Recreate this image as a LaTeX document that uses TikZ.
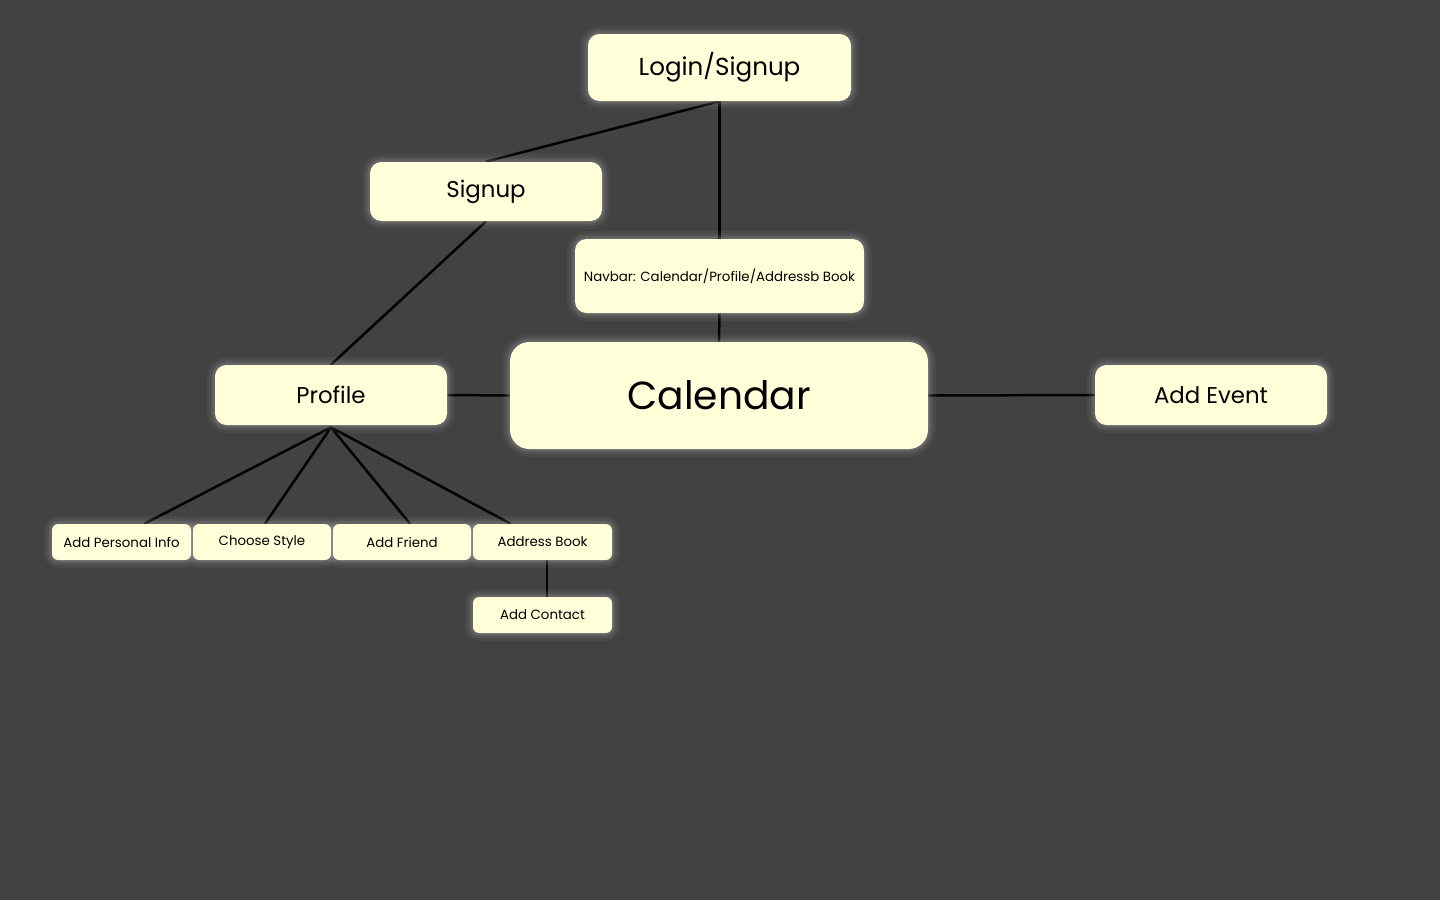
\documentclass[tikz,border=0pt]{standalone}
\usepackage{fontspec}
\setmainfont{Poppins}
\usetikzlibrary{backgrounds, calc}

\definecolor{canvas}{RGB}{66,66,66}
\definecolor{cardfill}{RGB}{255,255,217}

\begin{document}
\begin{tikzpicture}[
    x=0.02cm, y=-0.02cm,
    card/.style={fill=cardfill, inner sep=0pt, text=black,
        preaction={draw=white, draw opacity=0.04, line width=9pt},
        preaction={draw=white, draw opacity=0.06, line width=6pt},
        preaction={draw=white, draw opacity=0.10, line width=3pt}},
    bigcard/.style={card, rounded corners=11pt, font=\fontsize{22.3}{26}\selectfont},
    midcard/.style={card, rounded corners=6.5pt, font=\fontsize{13}{16}\selectfont},
    smallcard/.style={card, rounded corners=3.5pt, font=\fontsize{7.6}{9}\selectfont},
    link/.style={draw=black, line width=1.4pt},
]

\def\pxu{0.02cm}

\useasboundingbox (0,0) rectangle (1440,900);

% === Top of the flow ===
\node[midcard, font=\fontsize{14}{17}\selectfont, minimum width={263*\pxu}, minimum height={67*\pxu}] (login) at (719.5,67.5) {Login/Signup};
\node[midcard, minimum width={232*\pxu}, minimum height={59*\pxu}] (signup) at (486,191.5) {Signup};
\node[smallcard, rounded corners=6.5pt, minimum width={289*\pxu}, minimum height={74*\pxu}] (navbar) at (719.5,276) {Navbar: Calendar/Profile/Addressb Book};

% === Main row ===
\node[bigcard, minimum width={418*\pxu}, minimum height={107*\pxu}] (calendar) at (719,395.5) {Calendar};
\node[midcard, minimum width={232*\pxu}, minimum height={60*\pxu}] (profile) at (331,395) {Profile};
\node[midcard, minimum width={232*\pxu}, minimum height={60*\pxu}] (addevent) at (1211,395) {Add Event};

% === Profile children ===
\node[smallcard, minimum width={139*\pxu}, minimum height={36*\pxu}] (personal) at (121.5,542) {Add Personal Info};
\node[smallcard, minimum width={138*\pxu}, minimum height={36*\pxu}] (style) at (262,542) {Choose Style};
\node[smallcard, minimum width={138*\pxu}, minimum height={36*\pxu}] (friend) at (402,542) {Add Friend};
\node[smallcard, minimum width={139*\pxu}, minimum height={36*\pxu}] (address) at (542.5,542) {Address Book};
\node[smallcard, minimum width={139*\pxu}, minimum height={36*\pxu}] (contact) at (542.5,615) {Add Contact};

% === Connectors (behind the cards) ===
\begin{scope}[on background layer]
\fill[canvas] (0,0) rectangle (1440,900);
\draw[link] (login.south) -- (navbar.north);
\draw[link] (login.south) -- (signup.north);
\draw[link] (signup.south) -- (profile.north);
\draw[link] (navbar.south) -- (calendar.north);
\draw[link] (profile.east) -- (calendar.west);
\draw[link] (calendar.east) -- (addevent.west);
\foreach \kid/\dx in {personal/23, style/3, friend/8, address/-32} {
    \draw[link] ($(profile.south)+(0,2)$) -- ($(\kid.north)+(\dx,0)$);
}
\draw[link] ($(address.south)+(4.5,0)$) -- ($(contact.north)+(4.5,0)$);
\end{scope}

\end{tikzpicture}
\end{document}
